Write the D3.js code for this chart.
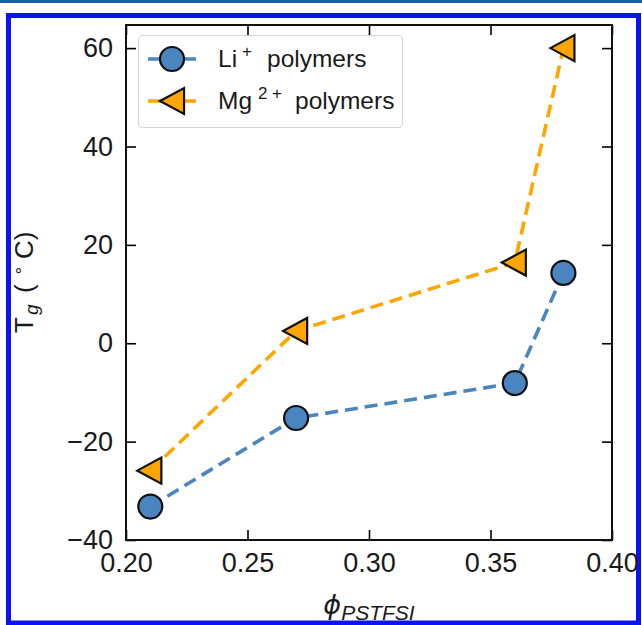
<!DOCTYPE html>
<html>
<head>
<meta charset="utf-8">
<script src="https://cdn.jsdelivr.net/npm/d3@7"></script>
<style>
	body { margin: 0; background: #fff; }
	svg { display: block; font-family: "Liberation Sans", Arial, sans-serif; }
</style>
</head>
<body>
<div class="wrapper"></div>
<script>

// ---------------- data ---------------- //
var phi = [0.21, 0.27, 0.36, 0.38];
var tgLi = [-33.2, -15.2, -8.1, 14.3];
var tgMg = [-25.9, 2.5, 16.4, 60.0];
var xTicks = [0.20, 0.25, 0.30, 0.35, 0.40];
var yTicks = [-40, -20, 0, 20, 40, 60];

var WIDTH = 642,
	HEIGHT = 625,
	LEFT = 126,
	RIGHT = 612,
	TOP = 25,
	BOTTOM = 540,
	LI_COLOR = "#4a85c0",
	MG_COLOR = "#ffa500",
	TICK_FONT = 27;

var svg = d3.select(".wrapper")
	.append("svg")
		.attr("width", WIDTH)
		.attr("height", HEIGHT);

// page decoration: thin rule on top + blue frame
svg.append("rect")
	.attr("x", 0).attr("y", 0)
	.attr("width", WIDTH).attr("height", 3)
	.attr("fill", "#1b5fb0");

svg.append("rect")
	.attr("x", 8.5).attr("y", 15.5)
	.attr("width", 630).attr("height", 607.5)
	.attr("fill", "none")
	.attr("stroke", "#0a14f0")
	.attr("stroke-width", 5);

var x = d3.scaleLinear().domain([0.2, 0.4]).range([LEFT, RIGHT]);
var y = d3.scaleLinear().domain([-40, 64.7]).range([BOTTOM, TOP]);

// ---------------- axes ---------------- //
var fmtX = d3.format(".2f");

function styleAxis(g) {
	g.select(".domain").remove();
	g.selectAll(".tick line").attr("stroke", "#000").attr("stroke-width", 1.6);
}

svg.append("g")
	.attr("transform", "translate(0," + BOTTOM + ")")
	.call(d3.axisBottom(x).tickValues(xTicks).tickSize(-10).tickPadding(13).tickFormat(fmtX))
	.call(styleAxis)
	.selectAll("text")
		.attr("font-size", TICK_FONT)
		.attr("font-family", "Liberation Sans, Arial, sans-serif")
		.attr("fill", "#1a1a1a");

svg.append("g")
	.attr("transform", "translate(0," + TOP + ")")
	.call(d3.axisTop(x).tickValues(xTicks).tickSize(-10).tickFormat(""))
	.call(styleAxis);

svg.append("g")
	.attr("transform", "translate(" + LEFT + ",0)")
	.call(d3.axisLeft(y).tickValues(yTicks).tickSize(-10).tickPadding(13)
		.tickFormat(function(d) { return d < 0 ? "\u2212" + Math.abs(d) : d; }))
	.call(styleAxis)
	.selectAll("text")
		.attr("font-size", TICK_FONT)
		.attr("font-family", "Liberation Sans, Arial, sans-serif")
		.attr("fill", "#1a1a1a");

svg.append("g")
	.attr("transform", "translate(" + RIGHT + ",0)")
	.call(d3.axisRight(y).tickValues(yTicks).tickSize(-10).tickFormat(""))
	.call(styleAxis);

// spines
svg.append("rect")
	.attr("x", LEFT).attr("y", TOP)
	.attr("width", RIGHT - LEFT).attr("height", BOTTOM - TOP)
	.attr("fill", "none")
	.attr("stroke", "#111")
	.attr("stroke-width", 2);

// ---------------- series ---------------- //
var line = d3.line()
	.x(function(d) { return x(d[0]); })
	.y(function(d) { return y(d[1]); });

var liPts = d3.zip(phi, tgLi),
	mgPts = d3.zip(phi, tgMg);

svg.append("path")
	.datum(liPts)
	.attr("d", line)
	.attr("fill", "none")
	.attr("stroke", LI_COLOR)
	.attr("stroke-width", 3.6)
	.attr("stroke-dasharray", "13,7");

svg.append("path")
	.datum(mgPts)
	.attr("d", line)
	.attr("fill", "none")
	.attr("stroke", MG_COLOR)
	.attr("stroke-width", 3.6)
	.attr("stroke-dasharray", "13,7");

// left-pointing triangle, centred on (0,0)
function triPath(s) {
	return "M" + (-s) + ",0L" + (s * 0.85) + "," + (-s) + "L" + (s * 0.85) + "," + s + "Z";
}

svg.selectAll("circle.li")
	.data(liPts)
	.enter()
	.append("circle")
		.attr("class", "li")
		.attr("cx", function(d) { return x(d[0]); })
		.attr("cy", function(d) { return y(d[1]); })
		.attr("r", 12)
		.attr("fill", LI_COLOR)
		.attr("stroke", "#111")
		.attr("stroke-width", 2.2);

svg.selectAll("path.mg")
	.data(mgPts)
	.enter()
	.append("path")
		.attr("class", "mg")
		.attr("d", triPath(13))
		.attr("transform", function(d) { return "translate(" + x(d[0]) + "," + y(d[1]) + ")"; })
		.attr("fill", MG_COLOR)
		.attr("stroke", "#111")
		.attr("stroke-width", 2.2)
		.attr("stroke-linejoin", "miter");

// ---------------- legend ---------------- //
var legend = svg.append("g").attr("class", "legend");

legend.append("rect")
	.attr("x", 138.5).attr("y", 35.5)
	.attr("width", 264).attr("height", 92)
	.attr("rx", 4)
	.attr("fill", "#fff")
	.attr("fill-opacity", 0.85)
	.attr("stroke", "#d6d6d6")
	.attr("stroke-width", 1.2);

var LEG_FONT = 24.5,
	SUP_FONT = 17;

// Li+
legend.append("line")
	.attr("x1", 148).attr("x2", 196).attr("y1", 59).attr("y2", 59)
	.attr("stroke", LI_COLOR).attr("stroke-width", 3.6);
legend.append("circle")
	.attr("cx", 172).attr("cy", 59).attr("r", 12)
	.attr("fill", LI_COLOR).attr("stroke", "#111").attr("stroke-width", 2.2);
var t1 = legend.append("text")
	.attr("y", 67)
	.attr("font-size", LEG_FONT)
	.attr("fill", "#1a1a1a");
t1.append("tspan").attr("x", 218).text("Li");
t1.append("tspan").attr("x", 242).attr("dy", -10).attr("font-size", SUP_FONT).text("+");
t1.append("tspan").attr("x", 267).attr("dy", 10).text("polymers");

// Mg2+
legend.append("line")
	.attr("x1", 148).attr("x2", 196).attr("y1", 101).attr("y2", 101)
	.attr("stroke", MG_COLOR).attr("stroke-width", 3.6);
legend.append("path")
	.attr("d", triPath(13))
	.attr("transform", "translate(173,101)")
	.attr("fill", MG_COLOR).attr("stroke", "#111").attr("stroke-width", 2.2);
var t2 = legend.append("text")
	.attr("y", 109)
	.attr("font-size", LEG_FONT)
	.attr("fill", "#1a1a1a");
t2.append("tspan").attr("x", 218).text("Mg");
t2.append("tspan").attr("x", 258).attr("dy", -10).attr("font-size", SUP_FONT).text("2");
t2.append("tspan").attr("x", 272).attr("font-size", SUP_FONT).text("+");
t2.append("tspan").attr("x", 295).attr("dy", 10).text("polymers");

// ---------------- axis labels ---------------- //
var yl = svg.append("text")
	.attr("transform", "translate(33,333) rotate(-90)")
	.attr("font-size", 26)
	.attr("fill", "#1a1a1a");
yl.append("tspan").attr("x", 0).text("T");
yl.append("tspan").attr("x", 18).attr("dy", 5).attr("font-size", 19).attr("font-style", "italic").text("g");
yl.append("tspan").attr("x", 40).attr("dy", -5).text("(");
yl.append("tspan").attr("x", 57).attr("dy", -10).attr("font-size", 17).text("\u2218");
yl.append("tspan").attr("x", 74).attr("dy", 10).text("C)");

var xl = svg.append("text")
	.attr("x", (LEFT + RIGHT) / 2)
	.attr("y", 614)
	.attr("text-anchor", "middle")
	.attr("fill", "#1a1a1a");
xl.append("tspan").attr("font-size", 27).attr("font-style", "italic").attr("font-family", "DejaVu Sans, sans-serif").text("\u03d5");
xl.append("tspan").attr("dy", 6).attr("font-size", 21).attr("font-style", "italic").text("PSTFSI");

</script>
</body>
</html>
